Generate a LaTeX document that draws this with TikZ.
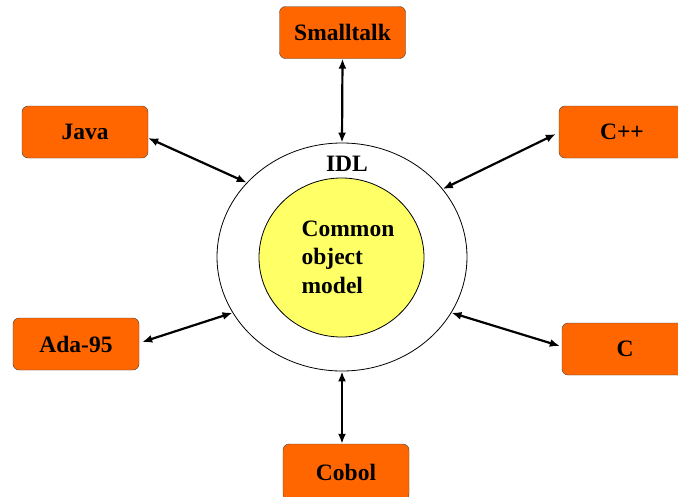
\documentclass[tikz,border=0pt]{standalone}
\usepackage{fontspec}
\setmainfont{Liberation Serif}
\usetikzlibrary{arrows.meta,shapes.geometric}
\definecolor{langorange}{RGB}{255,102,0}
\definecolor{cobyellow}{RGB}{255,255,102}
\begin{document}
\begin{tikzpicture}[x=1pt,y=-1pt]
	\tikzset{
		lang/.style={draw=black!75,fill=langorange,rounded corners=6pt,minimum width=126pt,minimum height=52pt,font=\fontsize{23.5}{28}\selectfont\bfseries},
		link/.style={{Latex[length=10pt,width=8pt]}-{Latex[length=10pt,width=8pt]},line width=2.2pt}
	}
	\path[use as bounding box,clip] (0,0) rectangle (678,496);
	\node[ellipse,draw,line width=.8pt,minimum width=250pt,minimum height=228pt,inner sep=0pt] (idl) at (342,257) {};
	\node[ellipse,draw,line width=.8pt,fill=cobyellow,minimum width=165pt,minimum height=159pt,inner sep=0pt] (com) at (341.5,257.5) {};
	\node[font=\fontsize{23.5}{28}\selectfont\bfseries] (idltxt) at (347,164) {IDL};
	\node[align=left,font=\fontsize{23.5}{28.5}\selectfont\bfseries] (comtxt) at (348,257) {Common\\object\\model};
	\node[lang] (st) at (342.5,32.5) {Smalltalk};
	\node[lang] (java) at (85,132) {Java};
	\node[lang] (cpp) at (622,132) {C++};
	\node[lang] (ada) at (76,344) {Ada-95};
	\node[lang] (c) at (625,349) {C};
	\node[lang,minimum height=56pt] (cobol) at (346,472) {Cobol};
	\draw[link] (st.south) -- (idl.north);
	\draw[link] ([yshift=-6pt]java.east) -- (idl.142);
	\draw[link] ([yshift=-2pt,xshift=-3pt]cpp.west) -- (idl.34);
	\draw[link] ([yshift=2pt,xshift=3pt]ada.east) -- (idl.207);
	\draw[link] ([yshift=3pt,xshift=-2pt]c.west) -- (idl.333);
	\draw[link] (idl.south) -- (idl.south |- cobol.north);
\end{tikzpicture}
\end{document}
